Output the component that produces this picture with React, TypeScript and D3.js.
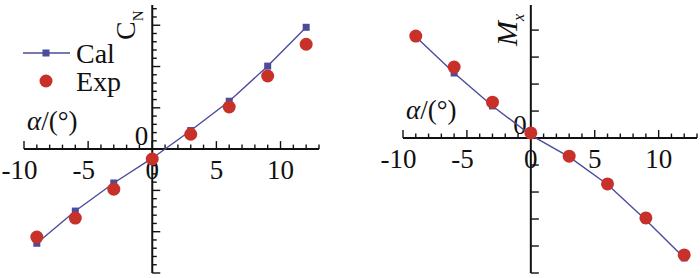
import React, { useRef, useEffect } from 'react'
import * as d3 from 'd3'

// Angle d'attaque (deg) et coefficients (unités = pas des graduations)
const ALPHA = [-9, -6, -3, 0, 3, 6, 9, 12]
const CN_CAL = [-2.28, -1.5, -0.82, -0.22, 0.45, 1.16, 2.01, 2.95]
const CN_EXP = [-2.13, -1.67, -0.97, -0.24, 0.36, 1.02, 1.77, 2.54]
const MX_CAL = [3.75, 2.41, 1.19, 0.11, -0.7, -1.72, -3.04, -4.44]
const MX_EXP = [3.78, 2.63, 1.33, 0.19, -0.67, -1.7, -2.96, -4.33]
const X_TICKS = [-10, -5, 0, 5, 10]
const LEGEND = ['Cal', 'Exp']

const FONT = 'Liberation Serif, DejaVu Serif, serif'
const FS = 27
const CAL_COLOR = '#4a4c9c'
const EXP_COLOR = '#c8302a'

type Panel = {
  x0: number
  x1: number
  yDomain: [number, number]
  yMinor: number
  yMajor: number
  cal: number[]
  exp: number[]
  label: 'CN' | 'Mx'
}

export default function App() {
  const svgRef = useRef<SVGSVGElement>(null)

  useEffect(() => {
    const svg = d3.select(svgRef.current)
    svg.selectAll('*').remove()

    const panels: Panel[] = [
      { x0: 24, x1: 319, yDomain: [-3, 3.49], yMinor: 0.2, yMajor: 1, cal: CN_CAL, exp: CN_EXP, label: 'CN' },
      { x0: 403, x1: 697, yDomain: [-5, 4.93], yMinor: 1, yMajor: 1, cal: MX_CAL, exp: MX_EXP, label: 'Mx' },
    ]

    const txt = (sel: any, size: number = FS) =>
      sel.attr('font-family', FONT).attr('font-size', size).attr('fill', '#111')

    panels.forEach((p) => {
      const x = d3.scaleLinear().domain([-10, 13]).range([p.x0, p.x1])
      const y = d3.scaleLinear().domain(p.yDomain).range([273, 5])
      const g = svg.append('g')
      const ax = x(0)
      const ay = y(0)

      // graduations axe x (vers le haut)
      d3.range(-10, 14, 1).forEach((v) => {
        const major = v % 5 === 0
        g.append('line')
          .attr('x1', x(v)).attr('x2', x(v))
          .attr('y1', ay).attr('y2', ay - (major ? 8 : 4.5))
          .attr('stroke', '#111').attr('stroke-width', 1.4)
      })
      // graduations axe y (vers la droite)
      const n = Math.round((p.yDomain[1] - p.yDomain[0]) / p.yMinor)
      for (let i = 0; i <= n; i++) {
        const v = p.yDomain[0] + i * p.yMinor
        if (v > p.yDomain[1] + 1e-6) break
        const major = Math.abs(v / p.yMajor - Math.round(v / p.yMajor)) < 1e-6
        g.append('line')
          .attr('x1', ax).attr('x2', ax + (major ? 8 : 4.5))
          .attr('y1', y(v)).attr('y2', y(v))
          .attr('stroke', '#111').attr('stroke-width', 1.4)
      }

      // axes
      g.append('line')
        .attr('x1', p.x0).attr('x2', p.x1).attr('y1', ay).attr('y2', ay)
        .attr('stroke', '#111').attr('stroke-width', 2)
      g.append('line')
        .attr('x1', ax).attr('x2', ax).attr('y1', y(p.yDomain[0])).attr('y2', y(p.yDomain[1]))
        .attr('stroke', '#111').attr('stroke-width', 2)

      // libellés axe x : le signe moins « déborde » à gauche
      X_TICKS.forEach((v) => {
        const s = String(Math.abs(v))
        txt(g.append('text'))
          .attr('x', x(v)).attr('y', ay + 30)
          .attr('text-anchor', 'middle')
          .text(s)
        if (v < 0) {
          txt(g.append('text'))
            .attr('x', x(v) - (s.length * FS * 0.5) / 2).attr('y', ay + 30)
            .attr('text-anchor', 'end')
            .text('-')
        }
      })
      txt(g.append('text'))
        .attr('x', ax - 4).attr('y', ay - 4)
        .attr('text-anchor', 'end')
        .text('0')

      // α/(°)
      const al = txt(g.append('text'))
        .attr('x', p.x0 + 3).attr('y', ay - 19)
      al.append('tspan').attr('font-style', 'italic').text('α')
      al.append('tspan').text('/(°)')

      // titre axe y
      if (p.label === 'CN') {
        const t = txt(g.append('text'), 28)
          .attr('transform', `translate(${ax - 17}, 40) rotate(-90)`)
        t.append('tspan').text('C')
        t.append('tspan').attr('dy', 8).attr('font-size', 15).text('N')
      } else {
        const t = txt(g.append('text'), 30)
          .attr('transform', `translate(${ax - 14}, 46) rotate(-90)`)
        t.append('tspan').attr('font-style', 'italic').text('M')
        t.append('tspan').attr('dy', 7).attr('font-size', 16).attr('font-style', 'italic').text('x')
      }

      // courbe calcul
      const line = d3.line<number>().x((_, i) => x(ALPHA[i])).y((d) => y(d))
      g.append('path')
        .datum(p.cal)
        .attr('fill', 'none').attr('stroke', CAL_COLOR).attr('stroke-width', 1.4)
        .attr('d', line)
      p.cal.forEach((v, i) => {
        g.append('rect')
          .attr('x', x(ALPHA[i]) - 3.5).attr('y', y(v) - 3.5)
          .attr('width', 7).attr('height', 7)
          .attr('fill', CAL_COLOR)
      })
      p.exp.forEach((v, i) => {
        g.append('circle')
          .attr('cx', x(ALPHA[i])).attr('cy', y(v)).attr('r', 6.5)
          .attr('fill', EXP_COLOR)
      })
    })

    // légende
    const lg = svg.append('g')
    lg.append('line')
      .attr('x1', 23).attr('x2', 70).attr('y1', 53).attr('y2', 53)
      .attr('stroke', CAL_COLOR).attr('stroke-width', 1.4)
    lg.append('rect').attr('x', 42.5).attr('y', 49.5).attr('width', 7).attr('height', 7).attr('fill', CAL_COLOR)
    lg.append('circle').attr('cx', 46).attr('cy', 81).attr('r', 6.5).attr('fill', EXP_COLOR)
    LEGEND.forEach((name, i) => {
      txt(lg.append('text'), 28)
        .attr('x', 76).attr('y', 63 + i * 28)
        .text(name)
    })
  }, [])

  return (
    <svg
      ref={svgRef}
      width={700}
      height={278}
      viewBox="0 0 700 278"
      style={{ position: 'absolute', left: 0, top: 0, background: '#fff' }}
    />
  )
}
